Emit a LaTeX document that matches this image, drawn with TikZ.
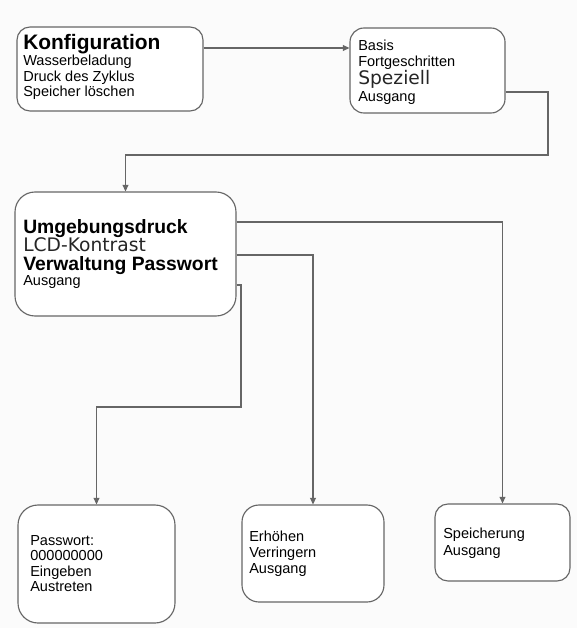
\documentclass[tikz,border=0pt]{standalone}
\usepackage{fontspec}
\setmainfont{Liberation Sans}
\newfontfamily\widefont{DejaVu Sans}
\usetikzlibrary{arrows.meta}
\begin{document}
\begin{tikzpicture}[x=0.75pt,y=-0.75pt,
  box/.style={draw=black!60, line width=0.85pt, fill=white, inner sep=0pt},
  bw/.style={minimum width=#1*0.75pt},
  bh/.style={minimum height=#1*0.75pt},
  rc/.style={rounded corners=#1*0.75pt},
  txt/.style={anchor=base west, inner sep=0pt, font=\fontsize{10.9}{13}\selectfont},
  bld/.style={anchor=base west, inner sep=0pt, font=\fontsize{14.5}{17}\selectfont\bfseries},
  bigbld/.style={anchor=base west, inner sep=0pt, font=\fontsize{15.7}{18}\selectfont\bfseries},
  wide/.style={anchor=base west, inner sep=0pt, font=\fontsize{14}{16}\selectfont\widefont, text=black!85},
  arr/.style={draw=black!60, line width=0.85pt, -{Triangle[length=5pt,width=4.5pt]}}
]
\fill[gray!3] (0,0) rectangle (577,628);
\useasboundingbox (0,0) rectangle (577,628);

% boxes
\node[box, bw=186, bh=84, rc=13] (b1) at (110,69) {};
\node[box, bw=155, bh=85, rc=14] (b2) at (427.5,70.5) {};
\node[box, bw=221, bh=124, rc=20] (b3) at (125.5,254) {};
\node[box, bw=157, bh=118, rc=20] (b4) at (96.5,564) {};
\node[box, bw=142, bh=97, rc=17] (b5) at (313,553.5) {};
\node[box, bw=135, bh=77, rc=13] (b6) at (502.5,542.5) {};

% box 1 text
\node[bigbld] (t1a) at (23,49.3) {Konfiguration};
\node[txt] (t1b) at (23,65) {Wasserbeladung};
\node[txt] (t1c) at (23,81) {Druck des Zyklus};
\node[txt] (t1d) at (23,96.5) {Speicher löschen};

% box 2 text
\node[txt] (t2a) at (358,50.7) {Basis};
\node[txt] (t2b) at (358,66.7) {Fortgeschritten};
\node[wide] (t2c) at (358,84.3) {Speziell};
\node[txt] (t2d) at (358,101) {Ausgang};

% box 3 text
\node[bld] (t3a) at (23,233.3) {Umgebungsdruck};
\node[wide] (t3b) at (23,251) {LCD-Kontrast};
\node[bld] (t3c) at (23,270.7) {Verwaltung Passwort};
\node[txt] (t3d) at (23,285) {Ausgang};

% box 4 text
\node[txt] (t4a) at (30,545) {Passwort:};
\node[txt] (t4b) at (30,560.7) {000000000};
\node[txt] (t4c) at (30,576) {Eingeben};
\node[txt] (t4d) at (30,591.7) {Austreten};

% box 5 text
\node[txt] (t5a) at (249,541.7) {Erhöhen};
\node[txt] (t5b) at (249,557.7) {Verringern};
\node[txt] (t5c) at (249,573.3) {Ausgang};

% box 6 text
\node[txt] (t6a) at (443,538.3) {Speicherung};
\node[txt] (t6b) at (443,555) {Ausgang};

% connectors
\coordinate (k0) at (0,48);
\coordinate (k1) at (548,92);
\coordinate (k2) at (548,155);
\coordinate (k4) at (0,222);
\coordinate (k5) at (0,255);
\coordinate (k6) at (241,285);
\coordinate (k7) at (241,407);

\draw[arr] (b1.east |- k0) -- (b2.west |- k0);
\draw[arr] (b2.east |- k1) -- (k1) -- (k2) -| (b3.north);
\draw[arr] (b3.east |- k4) -| (b6.north);
\draw[arr] (b3.east |- k5) -| (b5.north);
\draw[arr] (b3.east |- k6) -- (k6) -- (k7) -| (b4.north);
\end{tikzpicture}
\end{document}
